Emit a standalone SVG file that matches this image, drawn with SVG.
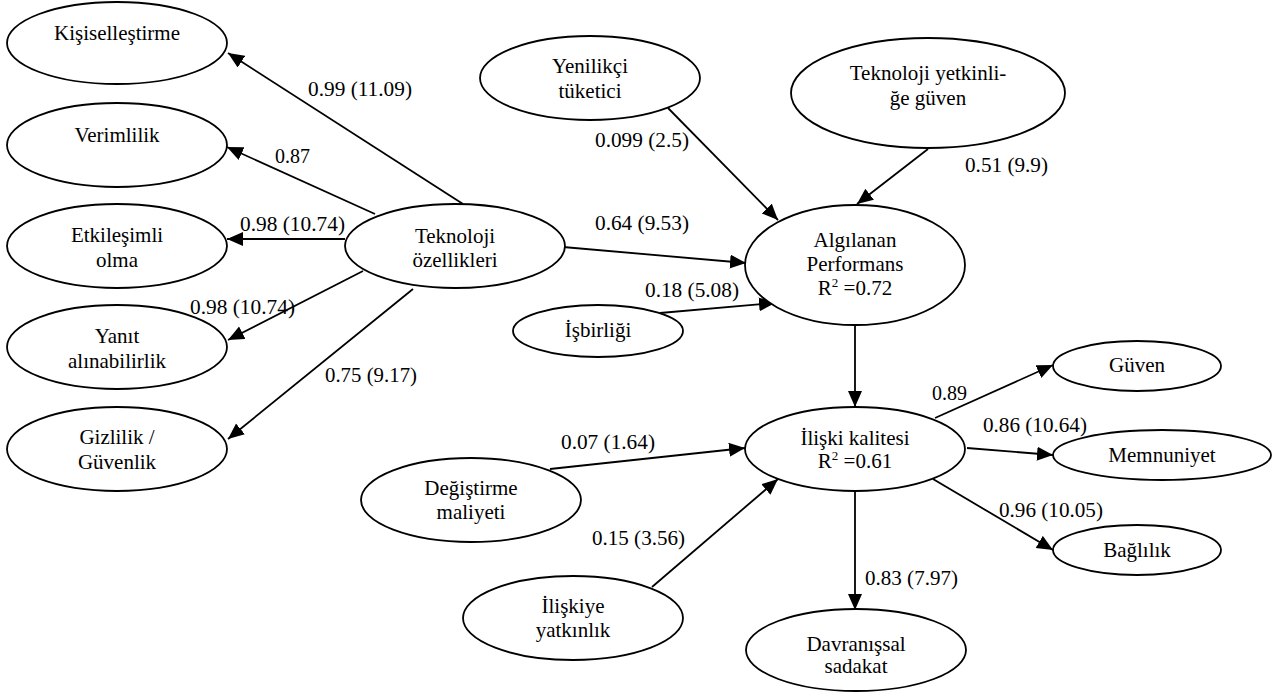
<svg xmlns="http://www.w3.org/2000/svg" width="1274" height="692" viewBox="0 0 1274 692">
<style>
.n ellipse{fill:#fff;stroke:#000;stroke-width:1.8}
.n text{font-size:21px;text-anchor:middle;fill:#000}
.c line{stroke:#000;stroke-width:1.8;marker-end:url(#ah)}
.l text{font-size:20px;fill:#000}
</style>
<defs>
<marker id="ah" markerUnits="userSpaceOnUse" markerWidth="17" markerHeight="15" refX="16" refY="7" orient="auto">
<path d="M0,0 L16,7 L0,14 z" fill="#000"/>
</marker>
</defs>
<rect width="1274" height="692" fill="#fff"/>
<g font-family="Liberation Serif, Times New Roman, DejaVu Serif, serif">
<g class="c" id="connectors">
<line x1="463" y1="204" x2="228" y2="53"/>
<line x1="375" y1="214" x2="227" y2="147"/>
<line x1="345" y1="239" x2="227" y2="239"/>
<line x1="363" y1="271" x2="228" y2="340"/>
<line x1="413" y1="289" x2="228" y2="439"/>
<line x1="668" y1="108" x2="778" y2="220"/>
<line x1="928" y1="149" x2="857" y2="204"/>
<line x1="563" y1="247" x2="746" y2="263"/>
<line x1="660" y1="313" x2="775" y2="303"/>
<line x1="855" y1="325" x2="855" y2="407"/>
<line x1="550" y1="469" x2="745" y2="448"/>
<line x1="652" y1="587" x2="778" y2="479"/>
<line x1="935" y1="418" x2="1053" y2="365"/>
<line x1="967" y1="448" x2="1053" y2="455"/>
<line x1="933" y1="479" x2="1053" y2="550"/>
<line x1="855" y1="492" x2="855" y2="610"/>
</g>
<g class="n" id="kisisellestirme"><ellipse cx="117" cy="43" rx="110" ry="41"/><text x="117" y="40">Kişiselleştirme</text></g>
<g class="n" id="verimlilik"><ellipse cx="117" cy="145" rx="110" ry="42"/><text x="117" y="142">Verimlilik</text></g>
<g class="n" id="etkilesimli"><ellipse cx="117" cy="246" rx="110" ry="42"/><text x="117" y="242">Etkileşimli</text><text x="117" y="267">olma</text></g>
<g class="n" id="yanit"><ellipse cx="117" cy="347" rx="110" ry="42"/><text x="117" y="343">Yanıt</text><text x="117" y="368">alınabilirlik</text></g>
<g class="n" id="gizlilik"><ellipse cx="117" cy="449" rx="110" ry="42"/><text x="117" y="444">Gizlilik /</text><text x="117" y="469">Güvenlik</text></g>
<g class="n" id="teknoloji-ozellikleri"><ellipse cx="455" cy="246" rx="110" ry="42"/><text x="455" y="243">Teknoloji</text><text x="455" y="267">özellikleri</text></g>
<g class="n" id="yenilikci"><ellipse cx="590" cy="78" rx="110" ry="42"/><text x="590" y="73">Yenilikçi</text><text x="590" y="98">tüketici</text></g>
<g class="n" id="teknoloji-guven"><ellipse cx="928" cy="93" rx="137" ry="55"/><text x="928" y="80">Teknoloji yetkinli-</text><text x="928" y="105">ğe güven</text></g>
<g class="n" id="algilanan"><ellipse cx="855" cy="265" rx="110" ry="60"/><text x="855" y="247">Algılanan</text><text x="855" y="271">Performans</text><text x="855" y="295">R<tspan font-size="13" dy="-8">2</tspan><tspan dy="8"> =0.72</tspan></text></g>
<g class="n" id="isbirligi"><ellipse cx="598" cy="331" rx="85" ry="26"/><text x="598" y="337">İşbirliği</text></g>
<g class="n" id="iliski-kalitesi"><ellipse cx="855" cy="449" rx="110" ry="42"/><text x="855" y="445">İlişki kalitesi</text><text x="855" y="468">R<tspan font-size="13" dy="-8">2</tspan><tspan dy="8"> =0.61</tspan></text></g>
<g class="n" id="guven"><ellipse cx="1137" cy="366" rx="84" ry="25"/><text x="1137" y="372">Güven</text></g>
<g class="n" id="memnuniyet"><ellipse cx="1162" cy="455" rx="109" ry="25"/><text x="1162" y="462">Memnuniyet</text></g>
<g class="n" id="baglilik"><ellipse cx="1137" cy="550" rx="84" ry="25"/><text x="1137" y="557">Bağlılık</text></g>
<g class="n" id="davranissal"><ellipse cx="856" cy="650" rx="110" ry="41"/><text x="856" y="651">Davranışsal</text><text x="856" y="673">sadakat</text></g>
<g class="n" id="degistirme"><ellipse cx="471" cy="500" rx="110" ry="42"/><text x="471" y="495">Değiştirme</text><text x="471" y="519">maliyeti</text></g>
<g class="n" id="iliskiye"><ellipse cx="573" cy="618" rx="110" ry="42"/><text x="573" y="613">İlişkiye</text><text x="573" y="637">yatkınlık</text></g>
<g class="l" id="labels">
<text x="308" y="96" textLength="104" lengthAdjust="spacingAndGlyphs">0.99 (11.09)</text>
<text x="275" y="163">0.87</text>
<text x="240" y="231" textLength="105" lengthAdjust="spacingAndGlyphs">0.98 (10.74)</text>
<text x="190" y="314" textLength="105" lengthAdjust="spacingAndGlyphs">0.98 (10.74)</text>
<text x="325" y="382" textLength="92" lengthAdjust="spacingAndGlyphs">0.75 (9.17)</text>
<text x="595" y="147" textLength="94" lengthAdjust="spacingAndGlyphs">0.099 (2.5)</text>
<text x="595" y="230" textLength="94" lengthAdjust="spacingAndGlyphs">0.64 (9.53)</text>
<text x="645" y="297" textLength="94" lengthAdjust="spacingAndGlyphs">0.18 (5.08)</text>
<text x="965" y="172" textLength="83" lengthAdjust="spacingAndGlyphs">0.51 (9.9)</text>
<text x="561" y="449" textLength="94" lengthAdjust="spacingAndGlyphs">0.07 (1.64)</text>
<text x="592" y="545" textLength="93" lengthAdjust="spacingAndGlyphs">0.15 (3.56)</text>
<text x="932" y="400">0.89</text>
<text x="983" y="432" textLength="104" lengthAdjust="spacingAndGlyphs">0.86 (10.64)</text>
<text x="999" y="517" textLength="104" lengthAdjust="spacingAndGlyphs">0.96 (10.05)</text>
<text x="865" y="585" textLength="93" lengthAdjust="spacingAndGlyphs">0.83 (7.97)</text>
</g>
</g>
</svg>
